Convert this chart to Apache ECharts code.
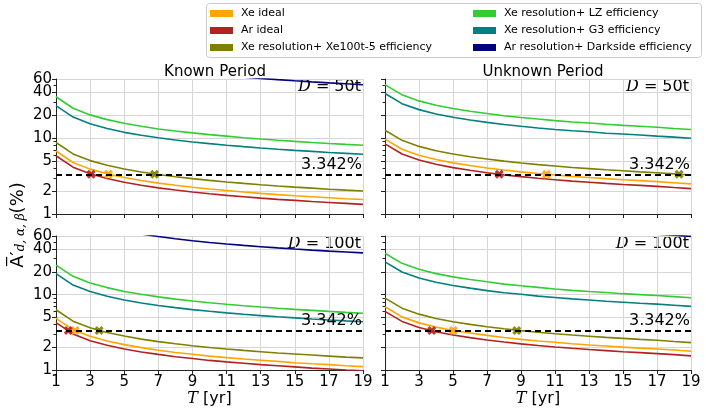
<!DOCTYPE html>
<html>
<head>
<meta charset="utf-8">
<script src="https://cdn.jsdelivr.net/npm/echarts@6/dist/echarts.min.js"></script>
<style>
html, body { margin: 0; padding: 0; background: #fff; }
#main { width: 706px; height: 412px; }
</style>
</head>
<body>
<div id="main"></div>
<script>
// x values (years of exposure) and y tick labels
var years = [1, 2, 3, 4, 5, 6, 7, 8, 9, 10, 11, 12, 13, 14, 15, 16, 17, 18, 19];
var yTicks = [1, 2, 5, 10, 20, 40, 60];
var yMinorTicks = [3, 4, 6, 7, 8, 9, 30, 50];
var threshold = 3.342;

var names = ['Xe ideal', 'Ar ideal', 'Xe resolution+ Xe100t-5 efficiency',
  'Xe resolution+ LZ efficiency', 'Xe resolution+ G3 efficiency', 'Ar resolution+ Darkside efficiency'];
var colors = ['#ffa500', '#b22222', '#808000', '#32cd32', '#008080', '#000080'];

// Known period, D = 50t
var k50XeIdeal = [6.75, 4.77, 3.90, 3.38, 3.02, 2.76, 2.55, 2.39, 2.25, 2.13, 2.04, 1.95, 1.87, 1.80, 1.74, 1.69, 1.64, 1.59, 1.55];
var k50ArIdeal = [5.85, 4.14, 3.38, 2.93, 2.62, 2.39, 2.21, 2.07, 1.95, 1.85, 1.76, 1.69, 1.62, 1.56, 1.51, 1.46, 1.42, 1.38, 1.34];
var k50Xe100 = [8.75, 6.19, 5.05, 4.38, 3.91, 3.57, 3.31, 3.09, 2.92, 2.77, 2.64, 2.53, 2.43, 2.34, 2.26, 2.19, 2.12, 2.06, 2.01];
var k50LZ = [35.0, 24.7, 20.2, 17.5, 15.7, 14.3, 13.2, 12.4, 11.7, 11.1, 10.6, 10.1, 9.71, 9.35, 9.04, 8.75, 8.49, 8.25, 8.03];
var k50G3 = [26.7, 18.9, 15.4, 13.4, 11.9, 10.9, 10.1, 9.44, 8.90, 8.44, 8.05, 7.71, 7.41, 7.14, 6.89, 6.68, 6.47, 6.29, 6.12];
var k50DS = [220, 156, 127, 110, 98.4, 89.8, 83.2, 77.8, 73.3, 69.6, 66.3, 63.5, 61.0, 58.8, 56.8, 55.0, 53.4, 51.9, 50.5];
var k50Cross = [4.08, 3.06, 6.78];

// Unknown period, D = 50t
var u50XeIdeal = [9.70, 7.13, 5.94, 5.21, 4.71, 4.35, 4.04, 3.79, 3.59, 3.41, 3.27, 3.13, 3.03, 2.92, 2.83, 2.75, 2.67, 2.58, 2.49];
var u50ArIdeal = [8.40, 6.17, 5.14, 4.51, 4.08, 3.76, 3.50, 3.28, 3.11, 2.96, 2.83, 2.71, 2.62, 2.53, 2.45, 2.38, 2.31, 2.23, 2.16];
var u50Xe100 = [12.7, 9.33, 7.77, 6.82, 6.17, 5.69, 5.30, 4.97, 4.70, 4.47, 4.28, 4.10, 3.96, 3.82, 3.71, 3.59, 3.49, 3.38, 3.26];
var u50LZ = [50.5, 37.1, 30.9, 27.1, 24.5, 22.6, 21.1, 19.7, 18.7, 17.8, 17.0, 16.3, 15.8, 15.2, 14.7, 14.3, 13.9, 13.4, 13.0];
var u50G3 = [38.7, 28.4, 23.7, 20.8, 18.8, 17.3, 16.1, 15.1, 14.3, 13.6, 13.0, 12.5, 12.1, 11.6, 11.3, 11.0, 10.6, 10.3, 9.95];
var u50DS = [327, 240, 200, 176, 159, 146, 136, 128, 121, 115, 110, 106, 102, 98.4, 95.5, 92.5, 89.9, 87.0, 84.0];
var u50Cross = [10.5, 7.72, 18.3];

// Known period, D = 100t
var k100XeIdeal = [4.85, 3.43, 2.80, 2.43, 2.17, 1.98, 1.83, 1.71, 1.62, 1.53, 1.46, 1.40, 1.35, 1.30, 1.25, 1.21, 1.18, 1.14, 1.11];
var k100ArIdeal = [4.25, 3.01, 2.45, 2.13, 1.90, 1.73, 1.61, 1.50, 1.42, 1.34, 1.28, 1.23, 1.18, 1.14, 1.10, 1.06, 1.03, 1.00, 0.975];
var k100Xe100 = [6.30, 4.45, 3.64, 3.15, 2.82, 2.57, 2.38, 2.23, 2.10, 1.99, 1.90, 1.82, 1.75, 1.68, 1.63, 1.58, 1.53, 1.48, 1.45];
var k100LZ = [24.7, 17.5, 14.3, 12.4, 11.0, 10.1, 9.34, 8.73, 8.23, 7.81, 7.45, 7.13, 6.85, 6.60, 6.38, 6.18, 5.99, 5.82, 5.67];
var k100G3 = [19.0, 13.4, 11.0, 9.50, 8.50, 7.76, 7.18, 6.72, 6.33, 6.01, 5.73, 5.49, 5.27, 5.08, 4.91, 4.75, 4.61, 4.48, 4.36];
var k100DS = [156, 110, 90.1, 78.0, 69.8, 63.7, 59.0, 55.2, 52.0, 49.3, 47.0, 45.0, 43.3, 41.7, 40.3, 39.0, 37.8, 36.8, 35.8];
var k100Cross = [2.12, 1.72, 3.53];

// Unknown period, D = 100t
var u100XeIdeal = [6.90, 5.07, 4.22, 3.71, 3.35, 3.09, 2.88, 2.70, 2.55, 2.43, 2.33, 2.23, 2.15, 2.08, 2.01, 1.95, 1.90, 1.84, 1.77];
var u100ArIdeal = [6.00, 4.41, 3.67, 3.22, 2.92, 2.69, 2.50, 2.35, 2.22, 2.11, 2.02, 1.94, 1.87, 1.81, 1.75, 1.70, 1.65, 1.60, 1.54];
var u100Xe100 = [9.00, 6.62, 5.51, 4.83, 4.37, 4.03, 3.75, 3.52, 3.33, 3.17, 3.03, 2.91, 2.81, 2.71, 2.63, 2.55, 2.48, 2.39, 2.31];
var u100LZ = [35.4, 26.0, 21.7, 19.0, 17.2, 15.9, 14.8, 13.8, 13.1, 12.5, 11.9, 11.4, 11.0, 10.7, 10.3, 10.0, 9.74, 9.42, 9.10];
var u100G3 = [27.2, 20.0, 16.6, 14.6, 13.2, 12.2, 11.3, 10.6, 10.1, 9.57, 9.17, 8.79, 8.49, 8.19, 7.94, 7.70, 7.48, 7.24, 6.99];
var u100DS = [231, 170, 141, 124, 112, 103, 96.3, 90.3, 85.5, 81.3, 77.8, 74.6, 72.1, 69.5, 67.5, 65.4, 63.5, 61.4, 59.4];
var u100Cross = [5.02, 3.75, 8.75];

var panels = [
  { lines: [k50XeIdeal, k50ArIdeal, k50Xe100, k50LZ, k50G3, k50DS], cross: k50Cross, mass: '50t' },
  { lines: [u50XeIdeal, u50ArIdeal, u50Xe100, u50LZ, u50G3, u50DS], cross: u50Cross, mass: '50t' },
  { lines: [k100XeIdeal, k100ArIdeal, k100Xe100, k100LZ, k100G3, k100DS], cross: k100Cross, mass: '100t' },
  { lines: [u100XeIdeal, u100ArIdeal, u100Xe100, u100LZ, u100G3, u100DS], cross: u100Cross, mass: '100t' }
];

var FONT = 'DejaVu Sans';
var lg = function(v) { return Math.log10(v); };
var yMax = lg(60);
var xMark = 'path://M0,2.5 L2.5,0 L5,2.5 L7.5,0 L10,2.5 L7.5,5 L10,7.5 L7.5,10 L5,7.5 L2.5,10 L0,7.5 L2.5,5 Z';
// "40" sits right under "60": put it on the second axis so neither label gets dropped
var labelsA = yTicks.filter(function(v, j) { return j !== 5; });
var labelsB = [yTicks[5]];

var grids = [
  { left: 56, top: 79, width: 307, height: 135 },
  { left: 385, top: 79, width: 306, height: 135 },
  { left: 56, top: 236, width: 307, height: 134 },
  { left: 385, top: 236, width: 306, height: 134 }
];

var xAxes = [], yAxes = [], series = [], graphics = [];

function tickLabel(show, values) {
  return {
    show: show, customValues: values.map(lg), fontSize: 15, lineHeight: 12, color: '#000', margin: 4, fontFamily: FONT,
    hideOverlap: false, showMinLabel: true, showMaxLabel: true,
    formatter: function(v) { return String(Math.round(Math.pow(10, v))); }
  };
}

grids.forEach(function(g, i) {
  var bottom = i >= 2;
  xAxes.push({
    type: 'value', gridIndex: i, min: 1, max: 19, interval: 2,
    axisLine: { show: true, lineStyle: { color: '#222', width: 1 } },
    axisTick: { show: true, length: 4, lineStyle: { color: '#222' } },
    axisLabel: { show: bottom, fontSize: 15, color: '#000', margin: 5, fontFamily: FONT, hideOverlap: false, showMinLabel: true, showMaxLabel: true },
    splitLine: { show: true, lineStyle: { color: '#d6d6d6', width: 1 } },
    name: bottom ? '{t|T} [yr]' : '',
    nameLocation: 'middle', nameGap: 21,
    nameTextStyle: {
      fontSize: 16, color: '#000', fontFamily: FONT,
      rich: { t: { fontSize: 16, fontFamily: 'DejaVu Serif', fontStyle: 'italic', color: '#000' } }
    }
  });
  yAxes.push({
    type: 'value', gridIndex: i, position: 'left', min: 0, max: yMax,
    axisLine: { show: true, lineStyle: { color: '#222', width: 1 } },
    axisTick: { show: true, length: 4, customValues: yTicks.map(lg), lineStyle: { color: '#222' } },
    axisLabel: tickLabel(i % 2 === 0, labelsA),
    splitLine: { show: true, lineStyle: { color: '#d6d6d6', width: 1 } }
  });
  yAxes.push({
    type: 'value', gridIndex: i, position: 'left', min: 0, max: yMax,
    axisLine: { show: false },
    axisTick: { show: true, length: 2.5, customValues: yMinorTicks.map(lg), lineStyle: { color: '#222' } },
    axisLabel: tickLabel(i % 2 === 0, labelsB),
    splitLine: { show: false }
  });
});

panels.forEach(function(p, i) {
  p.lines.forEach(function(vals, k) {
    series.push({
      name: names[k], type: 'line', xAxisIndex: i, yAxisIndex: i * 2,
      data: years.map(function(t, j) { return [t, lg(vals[j])]; }),
      symbol: 'none', clip: true, z: 2,
      lineStyle: { width: 1.6, color: colors[k] },
      itemStyle: { color: colors[k] }
    });
  });
  series.push({
    name: 'threshold', type: 'line', xAxisIndex: i, yAxisIndex: i * 2, data: [], z: 3,
    markLine: {
      silent: true, symbol: ['none', 'none'],
      lineStyle: { color: '#000', type: [6, 4], width: 2 },
      label: {
        show: true, position: 'insideEndTop', formatter: threshold + '%',
        fontSize: 16, color: '#000', fontFamily: FONT, distance: [1, 2]
      },
      data: [{ yAxis: lg(threshold) }]
    }
  });
  p.cross.forEach(function(x, k) {
    series.push({
      name: names[k], type: 'scatter', xAxisIndex: i, yAxisIndex: i * 2,
      data: [[x, lg(threshold)]], symbol: xMark, symbolSize: 9, z: 4,
      itemStyle: { color: colors[k], opacity: 0.9 }
    });
  });
  var g = grids[i];
  graphics.push({
    type: 'text', right: 706 - (g.left + g.width) + 2, top: g.top + 0,
    style: {
      text: '{d|D} = ' + p.mass, fontSize: 16, fill: '#000', fontFamily: FONT,
      rich: { d: { fontSize: 16, fontFamily: 'DejaVu Serif', fontStyle: 'italic', fill: '#000' } }
    }
  });
});

graphics.push({
  type: 'rect', left: 206, top: 3, z: -1,
  shape: { width: 495, height: 54, r: 3 },
  style: { fill: '#fff', stroke: '#cccccc', lineWidth: 1 }
});
graphics.push({
  type: 'text', x: 18, y: 225, rotation: Math.PI / 2,
  style: {
    text: '{a|A\u0305\u2032}{s|d, \u03b1, \u03b2}{a|(%)}',
    align: 'center', verticalAlign: 'middle',
    rich: {
      a: { fontSize: 18, fontFamily: FONT, fill: '#000' },
      s: { fontSize: 12, fontFamily: 'DejaVu Serif', fontStyle: 'italic', fill: '#000', verticalAlign: 'bottom', padding: [6, 0, 0, 0] }
    }
  }
});

var legendBase = {
  orient: 'vertical', icon: 'rect', itemWidth: 23, itemHeight: 7, itemGap: 4, padding: 0,
  textStyle: { fontSize: 11, color: '#000', fontFamily: FONT, lineHeight: 13, padding: [0, 0, 0, 3] }
};

var myChart = echarts.init(document.getElementById('main'));
myChart.setOption({
  animation: false,
  textStyle: { fontFamily: FONT },
  title: [
    { text: 'Known Period', left: 210, top: 60, textAlign: 'center', textStyle: { fontSize: 15, fontWeight: 'normal', color: '#000', fontFamily: FONT } },
    { text: 'Unknown Period', left: 538, top: 60, textAlign: 'center', textStyle: { fontSize: 15, fontWeight: 'normal', color: '#000', fontFamily: FONT } }
  ],
  legend: [
    Object.assign({}, legendBase, { data: names.slice(0, 3), left: 210, top: 7 }),
    Object.assign({}, legendBase, { data: names.slice(3), left: 473, top: 7 })
  ],
  grid: grids,
  xAxis: xAxes,
  yAxis: yAxes,
  series: series,
  graphic: graphics
});
</script>
</body>
</html>
